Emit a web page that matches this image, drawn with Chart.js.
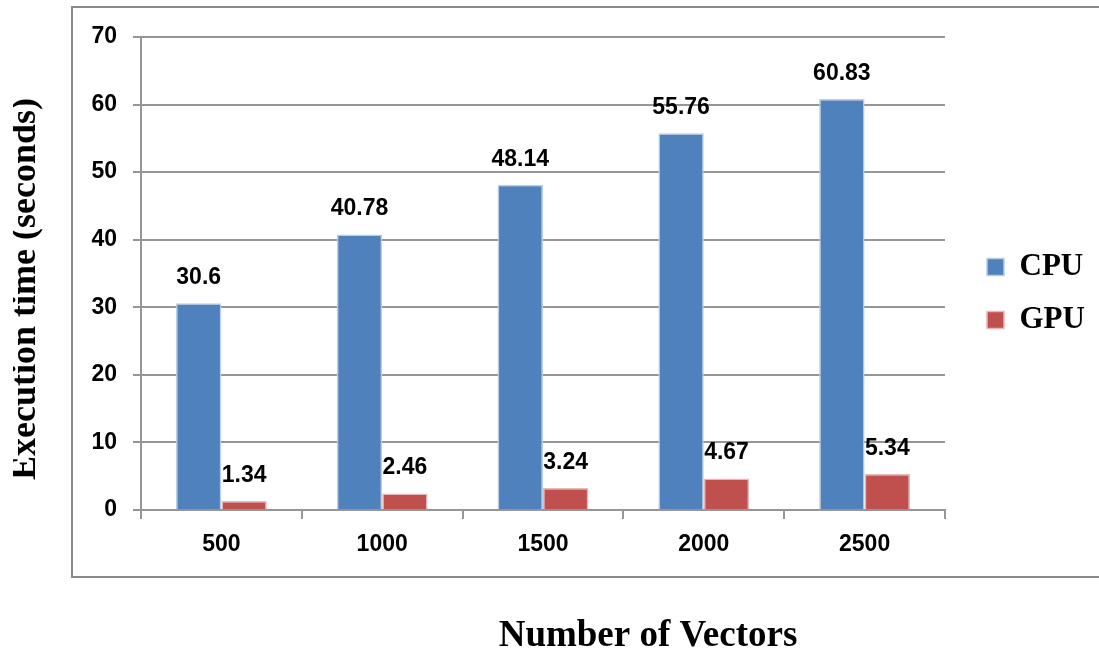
<!DOCTYPE html>
<html lang="en">
<head>
  <meta charset="UTF-8">
  <title>Execution time CPU vs GPU</title>
  <script src="https://cdn.jsdelivr.net/npm/chart.js"></script>
  <style>
    body { margin: 0; background: #fff; }
    #wrap { width: 1099px; height: 660px; }
  </style>
</head>
<body>
  <div id="wrap"><canvas id="timeChart" width="1099" height="660"></canvas></div>

  <script>
    const vectorCounts = ["500", "1000", "1500", "2000", "2500"];
    const cpuTimes = [30.6, 40.78, 48.14, 55.76, 60.83];
    const gpuTimes = [1.34, 2.46, 3.24, 4.67, 5.34];
    const yTicks = [0, 10, 20, 30, 40, 50, 60, 70];

    const gridGray = "#969696";
    const labelFont = { family: "'Liberation Sans', Arial, sans-serif", size: 23, weight: "bold" };
    const serifFamily = "'Liberation Serif', 'Times New Roman', serif";

    // frame + axis titles, drawn outside the plot like the original
    const decorations = {
      id: "decorations",
      beforeDraw(chart) {
        const ctx = chart.ctx;
        ctx.save();
        ctx.strokeStyle = "#8a8a8a";
        ctx.lineWidth = 2;
        ctx.strokeRect(72, 7, 1100, 570);
        ctx.restore();
      },
      afterDraw(chart) {
        const ctx = chart.ctx;
        ctx.save();
        ctx.fillStyle = "#000";
        ctx.textAlign = "center";
        ctx.textBaseline = "alphabetic";
        ctx.font = `bold 37px ${serifFamily}`;
        ctx.fillText("Number of Vectors", 648, 646);
        // the y title is cut off along its top edge in the original
        ctx.beginPath();
        ctx.rect(13, 0, 60, 660);
        ctx.clip();
        ctx.font = `bold 36px ${serifFamily}`;
        ctx.translate(35, 289);
        ctx.rotate(-Math.PI / 2);
        ctx.fillText("Execution time (seconds)", 0, 0);
        ctx.restore();
      }
    };

    // value labels above each bar
    const valueLabels = {
      id: "valueLabels",
      afterDatasetsDraw(chart) {
        const ctx = chart.ctx;
        ctx.save();
        ctx.fillStyle = "#000";
        ctx.font = `bold ${labelFont.size}px ${labelFont.family}`;
        ctx.textAlign = "center";
        ctx.textBaseline = "alphabetic";
        chart.data.datasets.forEach((ds, i) => {
          chart.getDatasetMeta(i).data.forEach((bar, j) => {
            ctx.fillText(String(ds.data[j]), bar.x, bar.y - 19);
          });
        });
        ctx.restore();
      }
    };

    // move the legend block to where it sits in the original
    const legendPlace = {
      id: "legendPlace",
      afterLayout(chart) {
        const lg = chart.legend;
        const w = lg.width, h = lg.height;
        lg.left = 965; lg.right = 965 + w;
        lg.top = 57; lg.bottom = 57 + h;
      }
    };

    const chart = new Chart(document.getElementById("timeChart"), {
      type: "bar",
      data: {
        labels: vectorCounts,
        datasets: [
          {
            label: "CPU",
            data: cpuTimes,
            backgroundColor: "#4F81BD",
            borderColor: "#B9CDE5",
            borderWidth: 1.5
          },
          {
            label: "GPU",
            data: gpuTimes,
            backgroundColor: "#C0504D",
            borderColor: "#E6B9B8",
            borderWidth: 1.5
          }
        ]
      },
      options: {
        responsive: false,
        animation: false,
        layout: { padding: { top: 37, left: 0, right: 40, bottom: 0 } },
        datasets: { bar: { categoryPercentage: 0.565, barPercentage: 1.0 } },
        scales: {
          x: {
            grid: { offset: true, drawOnChartArea: false, drawTicks: true, tickLength: 9, color: gridGray, lineWidth: 2 },
            border: { color: gridGray, width: 2 },
            ticks: { color: "#000", font: labelFont, padding: 12 },
            afterFit(scale) { scale.height = 150; }
          },
          y: {
            min: 0,
            max: 70,
            afterBuildTicks(scale) { scale.ticks = yTicks.map(v => ({ value: v })); },
            grid: { tickLength: 8, color: gridGray, lineWidth: 2 },
            border: { color: gridGray, width: 2 },
            ticks: { color: "#000", font: labelFont, padding: 16 },
            afterFit(scale) { scale.width = 141; }
          }
        },
        plugins: {
          tooltip: { enabled: false },
          legend: {
            position: "right",
            fullSize: false,
            labels: {
              color: "#000",
              boxWidth: 17,
              boxHeight: 17,
              padding: 22,
              font: { family: serifFamily, size: 31, weight: "bold" }
            }
          }
        }
      },
      plugins: [decorations, valueLabels, legendPlace]
    });

    // trim right padding so the plot ends where the original does
    const dx = 945 - chart.chartArea.right;
    if (Math.abs(dx) > 0.5) {
      chart.options.layout.padding.right -= dx;
      chart.update("none");
    }
  </script>
</body>
</html>
